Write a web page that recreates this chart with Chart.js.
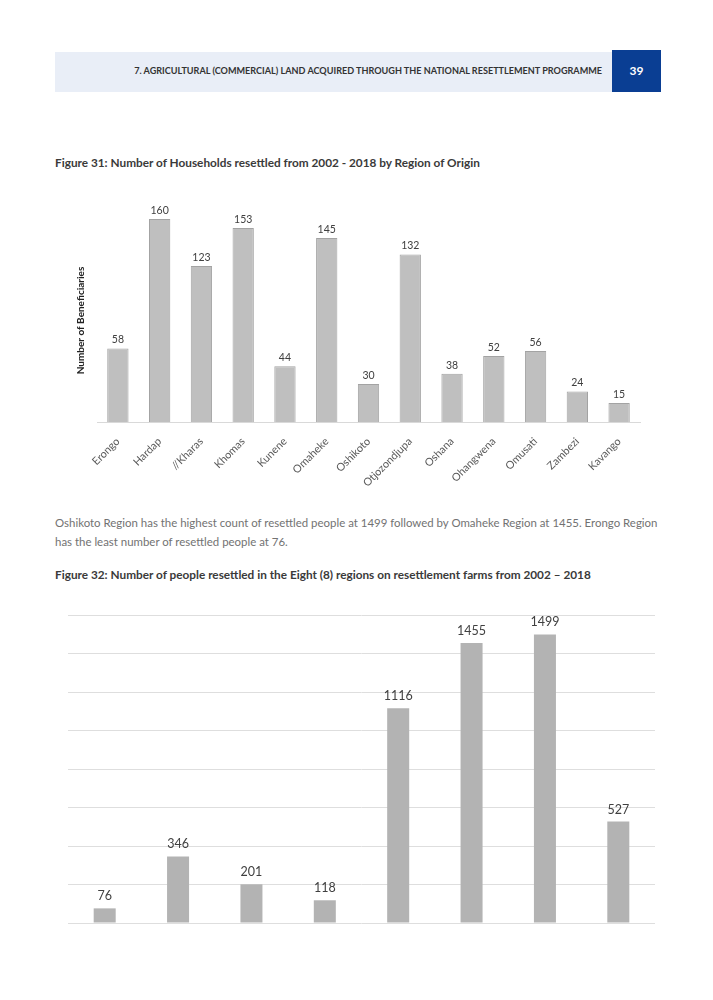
<!DOCTYPE html>
<html>
<head>
<meta charset="utf-8">
<script src="https://cdn.jsdelivr.net/npm/chart.js@4"></script>
<style>
  html,body{margin:0;padding:0;background:#fff;}
  body{width:713px;height:1000px;position:relative;overflow:hidden;font-family:Lato,"Open Sans",sans-serif;}
  .band{position:absolute;left:55px;top:52px;width:557px;height:40px;background:#e9eef7;}
  .band span{position:absolute;right:10px;top:13px;font-weight:bold;font-size:9.6px;color:#333;white-space:nowrap;transform:scaleX(0.947);transform-origin:right center;}
  .pg{position:absolute;left:612px;top:50px;width:49px;height:42px;background:#0a3e93;color:#fff;font-weight:bold;font-size:12px;text-align:center;line-height:42px;}
  .ttl{position:absolute;left:55px;font-weight:bold;font-size:11.8px;color:#3a3a3a;white-space:nowrap;}
  .para{position:absolute;left:55px;top:513px;width:610px;font-size:11.45px;line-height:19px;color:#727272;}
  .cv{position:absolute;left:0;}
</style>
</head>
<body>
<div class="band"><span>7. AGRICULTURAL (COMMERCIAL) LAND ACQUIRED THROUGH THE NATIONAL RESETTLEMENT PROGRAMME</span></div>
<div class="pg">39</div>
<div class="ttl" style="top:155px;">Figure 31: Number of Households resettled from 2002 - 2018 by Region of Origin</div>
<div class="para">Oshikoto Region has the highest count of resettled people at 1499 followed by Omaheke Region at 1455. Erongo Region has the least number of resettled people at 76.</div>
<div class="ttl" style="top:567px;">Figure 32: Number of people resettled in the Eight (8) regions on resettlement farms from 2002 – 2018</div>
<div class="cv" style="top:190px;width:713px;height:330px;"><canvas id="c1"></canvas></div>
<div class="cv" style="top:600px;width:713px;height:340px;"><canvas id="c2"></canvas></div>
<script>
const regions31 = ["Erongo","Hardap","//Kharas","Khomas","Kunene","Omaheke","Oshikoto","Otjozondjupa","Oshana","Ohangwena","Omusati","Zambezi","Kavango"];
const households31 = [58,160,123,153,44,145,30,132,38,52,56,24,15];
const regions32 = ["Erongo","Hardap","//Kharas","Khomas","Kunene","Omaheke","Oshikoto","Otjozondjupa"];
const people32 = [76,346,201,118,1116,1455,1499,527];
const yTicks32 = [0,200,400,600,800,1000,1200,1400,1600];

const FONT = "Lato, 'Open Sans', sans-serif";

function valueLabels(size, offset){
  return {
    id:'valueLabels',
    afterDatasetsDraw(chart){
      const ctx = chart.ctx;
      ctx.save();
      ctx.font = size + "px " + FONT;
      ctx.fillStyle = "#404040";
      ctx.textAlign = "center";
      ctx.textBaseline = "middle";
      chart.data.datasets.forEach((ds,di)=>{
        chart.getDatasetMeta(di).data.forEach((bar,i)=>{
          ctx.fillText(String(ds.data[i]), bar.x, bar.y - offset);
        });
      });
      ctx.restore();
    }
  };
}

new Chart(document.getElementById('c1'),{
  type:'bar',
  data:{labels:regions31,datasets:[{data:households31,backgroundColor:'#bfbfbf',borderColor:'#a3a3a3',borderWidth:1,barPercentage:0.51,categoryPercentage:1}]},
  options:{
    responsive:true,maintainAspectRatio:false,animation:false,
    layout:{padding:{top:29,right:73,left:0,bottom:0}},
    plugins:{legend:{display:false},tooltip:{enabled:false}},
    scales:{
      x:{
        grid:{display:false,drawTicks:false},
        border:{display:true,color:'#d9d9d9'},
        ticks:{minRotation:45,maxRotation:45,padding:13,color:'#595959',font:{family:FONT,size:10.8}},
        afterFit(s){s.height=98;}
      },
      y:{
        min:0,max:160,
        grid:{display:false,drawTicks:false},
        border:{display:false},
        ticks:{display:false},
        title:{display:true,text:'Number of Beneficiaries',color:'#222',font:{family:FONT,size:10,weight:'bold'},padding:{top:75,bottom:0}},
        afterFit(s){s.width=97;}
      }
    }
  },
  plugins:[valueLabels(10.5,8.5)]
});

new Chart(document.getElementById('c2'),{
  type:'bar',
  data:{labels:regions32,datasets:[{data:people32,backgroundColor:'#b3b3b3',borderWidth:0,barPercentage:0.3,categoryPercentage:1}]},
  options:{
    responsive:true,maintainAspectRatio:false,animation:false,
    layout:{padding:{top:15,right:58,left:68,bottom:17}},
    plugins:{legend:{display:false},tooltip:{enabled:false}},
    scales:{
      x:{display:false},
      y:{
        min:yTicks32[0],max:yTicks32[yTicks32.length-1],
        afterBuildTicks(s){s.ticks=yTicks32.map(v=>({value:v}));},
        grid:{color:'#dedede',drawTicks:false},
        border:{display:false},
        ticks:{display:false},
        afterFit(s){s.width=0;}
      }
    }
  },
  plugins:[valueLabels(12.5,12)]
});
</script>
</body>
</html>
